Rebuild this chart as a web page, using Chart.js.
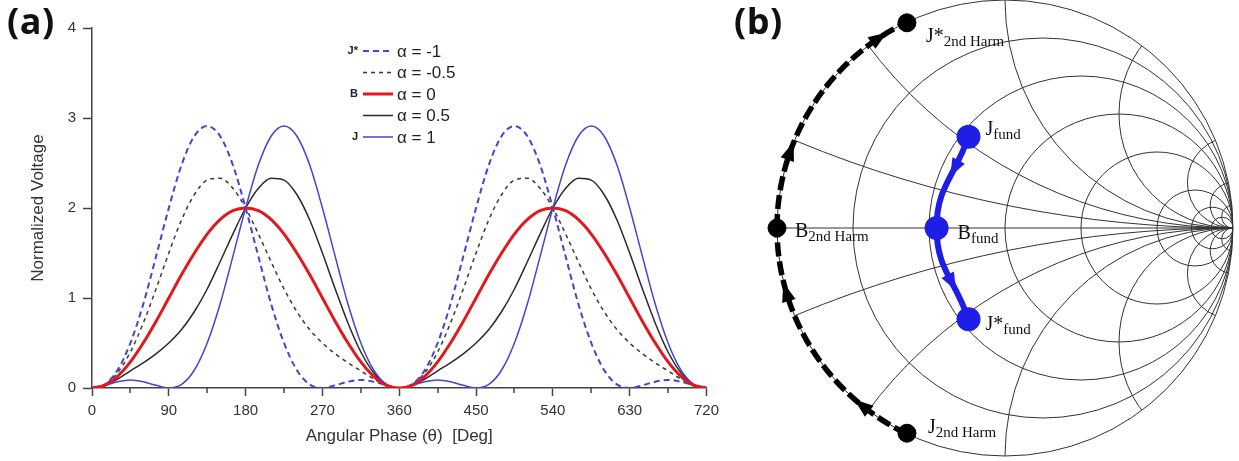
<!DOCTYPE html>
<html><head><meta charset="utf-8">
<script src="https://cdn.jsdelivr.net/npm/chart.js@4.4.1/dist/chart.umd.min.js"></script>
<style>
html,body{margin:0;padding:0;background:#fff;width:1239px;height:461px;overflow:hidden;}
#ca{position:absolute;left:0;top:0;}
#cb{position:absolute;left:720px;top:0;}
.plabel{position:absolute;font-family:"Open Sans","Liberation Sans",sans-serif;font-weight:700;font-size:36px;color:#111;line-height:1;letter-spacing:0.5px;}
</style></head><body>
<canvas id="ca" width="725" height="461"></canvas>
<canvas id="cb" width="519" height="461"></canvas>
<div class="plabel" style="left:7px;top:3px">(a)</div>
<div class="plabel" style="left:734px;top:3px">(b)</div>
<script>
// ---------- Panel (a) data ----------
const thetaDeg = [0,15,30,45,60,75,90,105,120,135,150,165,180,195,210,225,240,255,270,285,300,315,330,345,360,
                  375,390,405,420,435,450,465,480,495,510,525,540,555,570,585,600,615,630,645,660,675,690,705,720];
const seriesNames = ['α = -1','α = -0.5','α = 0','α = 0.5','α = 1'];
const seriesTags  = ['J*','','B','','J'];
const vJstar   = [0,0.04,0.20,0.50,0.93,1.46,2.00,2.48,2.80,2.91,2.80,2.48,2.00,1.46,0.93,0.50,0.20,0.04,0,0.03,0.07,0.09,0.07,0.03,0,
                  0.04,0.20,0.50,0.93,1.46,2.00,2.48,2.80,2.91,2.80,2.48,2.00,1.46,0.93,0.50,0.20,0.04,0,0.03,0.07,0.09,0.07,0.03,0];
const vHalfNeg = [0,0.04,0.17,0.40,0.72,1.10,1.50,1.87,2.15,2.31,2.33,2.22,2.00,1.71,1.40,1.10,0.85,0.65,0.50,0.38,0.28,0.19,0.10,0.03,0,
                  0.04,0.17,0.40,0.72,1.10,1.50,1.87,2.15,2.31,2.33,2.22,2.00,1.71,1.40,1.10,0.85,0.65,0.50,0.38,0.28,0.19,0.10,0.03,0];
const vB       = [0,0.03,0.13,0.29,0.50,0.74,1.00,1.26,1.50,1.71,1.87,1.97,2.00,1.97,1.87,1.71,1.50,1.26,1.00,0.74,0.50,0.29,0.13,0.03,0,
                  0.03,0.13,0.29,0.50,0.74,1.00,1.26,1.50,1.71,1.87,1.97,2.00,1.97,1.87,1.71,1.50,1.26,1.00,0.74,0.50,0.29,0.13,0.03,0];
const vHalfPos = [0,0.03,0.10,0.19,0.28,0.38,0.50,0.65,0.85,1.10,1.40,1.71,2.00,2.22,2.33,2.31,2.15,1.87,1.50,1.10,0.72,0.40,0.17,0.04,0,
                  0.03,0.10,0.19,0.28,0.38,0.50,0.65,0.85,1.10,1.40,1.71,2.00,2.22,2.33,2.31,2.15,1.87,1.50,1.10,0.72,0.40,0.17,0.04,0];
const vJ       = [0,0.03,0.07,0.09,0.07,0.03,0,0.04,0.20,0.50,0.93,1.46,2.00,2.48,2.80,2.91,2.80,2.48,2.00,1.46,0.93,0.50,0.20,0.04,0,
                  0.03,0.07,0.09,0.07,0.03,0,0.04,0.20,0.50,0.93,1.46,2.00,2.48,2.80,2.91,2.80,2.48,2.00,1.46,0.93,0.50,0.20,0.04,0];
const xAxisTitle = 'Angular Phase (θ)  [Deg]';
const yAxisTitle = 'Normalized Voltage';

// ---------- Panel (b) data (reflection coefficient plane) ----------
const fundTags = ['J','B','J*'];
const fundRe   = [-0.16,-0.30,-0.16];
const fundIm   = [0.40,0.00,-0.40];
const harmTags = ['J','B','J*'];
const harmRe   = [-0.43,-1.00,-0.43];
const harmIm   = [-0.90,0.00,0.90];
const fundSub = 'fund';
const harmSub = '2nd Harm';
const smithResistances = [0.2,0.5,1,2,5,10,20];
const smithReactances  = [0.2,0.5,1,2,5,10,20];

const SANS = "'Liberation Sans', Arial, sans-serif";
const SERIF = "'Liberation Serif', 'Times New Roman', serif";
const pts = vals => thetaDeg.map((t,i)=>({x:t,y:vals[i]}));

// ---------- Panel (a) plugins ----------
const minorTicks = {
  id:'minorTicks',
  afterDraw(chart){
    const xs = chart.scales.x, yb = chart.chartArea.bottom, ctx = chart.ctx;
    ctx.save(); ctx.strokeStyle='#444'; ctx.lineWidth=1.5;
    for(let v = xs.min + 45; v < xs.max; v += 90){
      const px = Math.round(xs.getPixelForValue(v));
      ctx.beginPath(); ctx.moveTo(px,yb); ctx.lineTo(px,yb+5); ctx.stroke();
    }
    ctx.restore();
  }
};
const legendA = {
  id:'legendA',
  afterDatasetsDraw(chart){
    const ctx = chart.ctx; ctx.save();
    const tagX=358, l0=363, l1=393, tx=397, y0=51, dy=21.5;
    chart.data.datasets.forEach((ds,i)=>{
      const y = y0 + i*dy;
      if(seriesTags[i]){
        ctx.font = "bold 11px " + SANS; ctx.fillStyle='#222'; ctx.textAlign='right'; ctx.textBaseline='middle';
        ctx.fillText(seriesTags[i], tagX, y);
      }
      ctx.strokeStyle = ds.borderColor; ctx.lineWidth = ds.borderWidth;
      ctx.setLineDash(ds.borderDash || []);
      ctx.beginPath(); ctx.moveTo(l0,y); ctx.lineTo(l1,y); ctx.stroke();
      ctx.setLineDash([]);
      ctx.font = "17px " + SANS; ctx.fillStyle='#222'; ctx.textAlign='left'; ctx.textBaseline='middle';
      ctx.fillText(ds.label, tx, y+1);
    });
    ctx.restore();
  }
};

new Chart(document.getElementById('ca'), {
  type:'line',
  data:{datasets:[
    {label:seriesNames[0], data:pts(vJstar),   borderColor:'#4343d4', borderWidth:2,   borderDash:[6,4], order:2},
    {label:seriesNames[1], data:pts(vHalfNeg), borderColor:'#3a3a3a', borderWidth:1.5, borderDash:[4,4], order:4},
    {label:seriesNames[2], data:pts(vB),       borderColor:'#e3181c', borderWidth:3,   order:0},
    {label:seriesNames[3], data:pts(vHalfPos), borderColor:'#2a2a2a', borderWidth:1.5, order:3},
    {label:seriesNames[4], data:pts(vJ),       borderColor:'#4343d4', borderWidth:1.5, order:1}
  ]},
  options:{
    responsive:false, animation:false, devicePixelRatio:1,
    layout:{padding:{left:0, top:28, right:17, bottom:0}},
    elements:{point:{radius:0}, line:{cubicInterpolationMode:'monotone', fill:false}},
    plugins:{legend:{display:false}, tooltip:{enabled:false}},
    scales:{
      x:{type:'linear', min:0, max:720,
         afterFit(s){ s.height = 73; },
         ticks:{stepSize:90, autoSkip:false, maxRotation:0, padding:6, color:'#333', font:{family:SANS, size:15}},
         grid:{drawOnChartArea:false, tickLength:8, tickColor:'#444', tickWidth:1.5},
         border:{display:true, color:'#444', width:1.5},
         title:{display:true, text:xAxisTitle, color:'#333', font:{family:SANS, size:17}, padding:{top:0, bottom:14}}},
      y:{min:0, max:4,
         afterFit(s){ s.width = 92; },
         ticks:{stepSize:1, padding:7, color:'#333', font:{family:SANS, size:15}},
         grid:{drawOnChartArea:false, tickLength:9, tickColor:'#444', tickWidth:1.5},
         border:{display:true, color:'#444', width:1.5},
         title:{display:true, text:yAxisTitle, color:'#333', font:{family:SANS, size:17}, padding:{top:28, bottom:0}}}
    }
  },
  plugins:[minorTicks, legendA]
});

// ---------- Panel (b) plugins ----------
function arrowHead(ctx, x, y, dx, dy, L, W, color){
  const n = Math.hypot(dx,dy) || 1; dx/=n; dy/=n;
  const nx = -dy, ny = dx;
  ctx.fillStyle = color;
  ctx.beginPath();
  ctx.moveTo(x + dx*L*0.6, y + dy*L*0.6);
  ctx.lineTo(x - dx*L*0.4 + nx*W/2, y - dy*L*0.4 + ny*W/2);
  ctx.lineTo(x - dx*L*0.4 - nx*W/2, y - dy*L*0.4 - ny*W/2);
  ctx.closePath(); ctx.fill();
}
function geom(chart){
  const {x, y} = chart.scales;
  const cx = x.getPixelForValue(0), cy = y.getPixelForValue(0);
  const R = x.getPixelForValue(1) - cx;
  return {x, y, cx, cy, R};
}
const smithGrid = {
  id:'smithGrid',
  beforeDatasetsDraw(chart){
    const ctx = chart.ctx, g = geom(chart);
    ctx.save();
    ctx.strokeStyle = '#333'; ctx.lineWidth = 1;
    ctx.beginPath(); ctx.arc(g.cx, g.cy, g.R, 0, 2*Math.PI); ctx.clip();
    smithResistances.forEach(r=>{
      const c = r/(1+r), rad = 1/(1+r);
      ctx.beginPath(); ctx.arc(g.x.getPixelForValue(c), g.cy, rad*g.R, 0, 2*Math.PI); ctx.stroke();
    });
    smithReactances.forEach(v=>{
      [1,-1].forEach(s=>{
        ctx.beginPath();
        ctx.arc(g.x.getPixelForValue(1), g.y.getPixelForValue(s/v), g.R/v, 0, 2*Math.PI);
        ctx.stroke();
      });
    });
    ctx.beginPath(); ctx.moveTo(g.cx-g.R, g.cy); ctx.lineTo(g.cx+g.R, g.cy); ctx.stroke();
    ctx.restore();
    ctx.save();
    ctx.strokeStyle = '#333'; ctx.lineWidth = 1;
    ctx.beginPath(); ctx.arc(g.cx, g.cy, g.R, 0, 2*Math.PI); ctx.stroke();
    // 2nd-harmonic trajectory along the edge of the chart
    const meta = chart.getDatasetMeta(0);
    const ang = meta.data.map(p=>Math.atan2(p.y-g.cy, p.x-g.cx));
    for(let i=1;i<ang.length;i++){ while(ang[i] < ang[i-1]) ang[i] += 2*Math.PI; }
    ctx.strokeStyle = '#000'; ctx.lineWidth = 5.5; ctx.setLineDash([14,5]);
    for(let i=0;i<ang.length-1;i++){
      ctx.beginPath(); ctx.arc(g.cx, g.cy, g.R, ang[i], ang[i+1], false); ctx.stroke();
    }
    ctx.setLineDash([]);
    const harmArrowT = [[0.2,0.74],[0.3,0.87]];
    for(let i=0;i<ang.length-1;i++){
      harmArrowT[i].forEach(t=>{
        const a = ang[i] + (ang[i+1]-ang[i])*t;
        arrowHead(ctx, g.cx + g.R*Math.cos(a), g.cy + g.R*Math.sin(a), -Math.sin(a), Math.cos(a), 19, 14, '#000');
      });
    }
    ctx.restore();
  }
};
const smithOverlay = {
  id:'smithOverlay',
  afterDatasetsDraw(chart){
    const ctx = chart.ctx;
    ctx.save();
    const pts = chart.getDatasetMeta(1).data;
    const fundArrowT = [0.3, 0.6];
    for(let i=0;i<pts.length-1;i++){
      const p0 = pts[i], p3 = pts[i+1];
      const p1 = {x: p0.cp2x ?? p0.x, y: p0.cp2y ?? p0.y};
      const p2 = {x: p3.cp1x ?? p3.x, y: p3.cp1y ?? p3.y};
      const t = fundArrowT[i], u = 1-t;
      const bx = u*u*u*p0.x + 3*u*u*t*p1.x + 3*u*t*t*p2.x + t*t*t*p3.x;
      const by = u*u*u*p0.y + 3*u*u*t*p1.y + 3*u*t*t*p2.y + t*t*t*p3.y;
      const dx = 3*u*u*(p1.x-p0.x) + 6*u*t*(p2.x-p1.x) + 3*t*t*(p3.x-p2.x);
      const dy = 3*u*u*(p1.y-p0.y) + 6*u*t*(p2.y-p1.y) + 3*t*t*(p3.y-p2.y);
      arrowHead(ctx, bx, by, dx, dy, 18, 14, '#1e1ee6');
    }
    const drawLabel = (p, main, sub, off) => {
      const x = p.x + off[0], y = p.y + off[1];
      ctx.fillStyle = '#111'; ctx.textAlign='left'; ctx.textBaseline='alphabetic';
      ctx.font = "20px " + SERIF; ctx.fillText(main, x, y);
      const w = ctx.measureText(main).width;
      ctx.font = "15px " + SERIF; ctx.fillText(sub, x + w, y + 4);
    };
    const harmOff = [[21,0],[18,9],[19,19]];
    const fundOff = [[17,-2],[21,11],[17,11]];
    chart.getDatasetMeta(0).data.forEach((p,i)=>drawLabel(p, harmTags[i], harmSub, harmOff[i]));
    pts.forEach((p,i)=>drawLabel(p, fundTags[i], fundSub, fundOff[i]));
    ctx.restore();
  }
};

new Chart(document.getElementById('cb'), {
  type:'scatter',
  data:{datasets:[
    {label:'2nd harmonic', data:harmRe.map((r,i)=>({x:r, y:harmIm[i]})), showLine:false,
     pointRadius:9, pointBackgroundColor:'#000', pointBorderColor:'#000', clip:false},
    {label:'fundamental', data:fundRe.map((r,i)=>({x:r, y:fundIm[i]})), showLine:true,
     borderColor:'#1e1ee6', borderWidth:6, tension:0.45, pointRadius:9,
     pointBackgroundColor:'#1e1ee6', pointBorderColor:'#1e1ee6', clip:false}
  ]},
  options:{
    responsive:false, animation:false, devicePixelRatio:1,
    layout:{padding:0, autoPadding:false},
    plugins:{legend:{display:false}, tooltip:{enabled:false}},
    scales:{
      x:{type:'linear', display:false, min:-1.25, max:1.0263},
      y:{type:'linear', display:false, min:-1.0219, max:1.0}
    }
  },
  plugins:[smithGrid, smithOverlay]
});
</script>
</body></html>
